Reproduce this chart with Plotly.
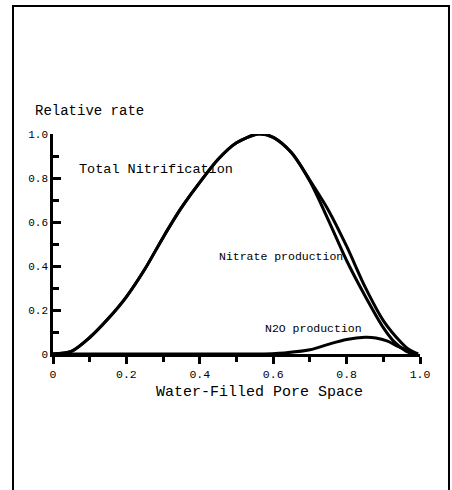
import plotly.graph_objects as go

# Data
wfps_total = [0, 0.05, 0.1, 0.15, 0.2, 0.25, 0.3, 0.35, 0.4, 0.45, 0.5, 0.56, 0.6, 0.65, 0.7, 0.75, 0.8, 0.85, 0.9, 0.95, 0.97, 0.995]
total_nitrification = [0, 0.012, 0.075, 0.16, 0.26, 0.385, 0.53, 0.665, 0.78, 0.885, 0.96, 1.0, 0.985, 0.915, 0.79, 0.655, 0.49, 0.306, 0.152, 0.05, 0.02, 0]

wfps_nitrate = [0, 0.05, 0.1, 0.15, 0.2, 0.25, 0.3, 0.35, 0.4, 0.45, 0.5, 0.56, 0.6, 0.65, 0.7, 0.75, 0.8, 0.85, 0.9, 0.93, 0.96, 0.98]
nitrate_production = [0, 0.012, 0.075, 0.16, 0.26, 0.385, 0.53, 0.665, 0.78, 0.885, 0.96, 1.0, 0.985, 0.915, 0.785, 0.61, 0.425, 0.265, 0.12, 0.055, 0.015, 0]

wfps_n2o = [0, 0.2, 0.4, 0.55, 0.63, 0.7, 0.75, 0.8, 0.85, 0.88, 0.91, 0.94, 0.975, 0.99]
n2o_production = [0, 0, 0, 0, 0.005, 0.019, 0.044, 0.066, 0.076, 0.073, 0.06, 0.035, 0.01, 0]

x_ticks = [0, 0.2, 0.4, 0.6, 0.8, 1.0]
x_tick_labels = ["0", "0.2", "0.4", "0.6", "0.8", "1.0"]
y_ticks = [0, 0.2, 0.4, 0.6, 0.8, 1.0]
y_tick_labels = ["0", "0.2", "0.4", "0.6", "0.8", "1.0"]

FONT = "Liberation Mono"
line = dict(color="black", width=3, shape="spline", smoothing=0.8)

fig = go.Figure()
fig.add_trace(go.Scatter(x=wfps_total, y=total_nitrification, mode="lines", line=line, showlegend=False))
fig.add_trace(go.Scatter(x=wfps_nitrate, y=nitrate_production, mode="lines", line=line, showlegend=False))
fig.add_trace(go.Scatter(x=wfps_n2o, y=n2o_production, mode="lines", line=line, showlegend=False))

fig.update_layout(
    width=452, height=490,
    margin=dict(l=53, r=32, t=134, b=136, pad=0),
    paper_bgcolor="white", plot_bgcolor="white",
    font=dict(family=FONT, color="black", size=11),
    xaxis=dict(range=[0, 1.0], tickvals=x_ticks, ticktext=x_tick_labels,
               showgrid=False, zeroline=False, showline=True, linecolor="black", linewidth=2.5,
               ticks="outside", ticklen=7, tickwidth=2.5, tickcolor="black",
               minor=dict(dtick=0.1, tick0=0, ticks="outside", ticklen=5, tickwidth=2.5, tickcolor="black"),
               tickfont=dict(family=FONT, size=11.5), fixedrange=True),
    yaxis=dict(range=[0, 1.0], tickvals=y_ticks, ticktext=y_tick_labels,
               showgrid=False, zeroline=False, showline=True, linecolor="black", linewidth=2.5,
               ticks="inside", ticklen=8, tickwidth=2.5, tickcolor="black",
               minor=dict(dtick=0.1, tick0=0, ticks="inside", ticklen=6, tickwidth=2.5, tickcolor="black"),
               tickfont=dict(family=FONT, size=11), fixedrange=True),
)

# outer frame
fig.add_shape(type="rect", xref="paper", yref="paper", x0=-0.109, x1=1.079, y0=-0.66, y1=1.582,
              line=dict(color="black", width=2), layer="below")

fig.add_annotation(text="Relative rate", xref="paper", yref="paper", x=-0.0545, y=1.1045,
                   xanchor="left", yanchor="middle", showarrow=False, font=dict(family=FONT, size=14))
fig.add_annotation(text="Total Nitrification", x=0.066, y=0.84, xanchor="left", yanchor="middle",
                   showarrow=False, font=dict(family=FONT, size=13.5))
fig.add_annotation(text="Nitrate production", x=0.448, y=0.442, xanchor="left", yanchor="middle",
                   showarrow=False, font=dict(family=FONT, size=11.5))
fig.add_annotation(text="N2O production", x=0.573, y=0.117, xanchor="left", yanchor="middle",
                   showarrow=False, font=dict(family=FONT, size=11.5))
fig.add_annotation(text="Water-Filled Pore Space", xref="paper", yref="paper", x=0.562, y=-0.177,
                   xanchor="center", yanchor="middle", showarrow=False, font=dict(family=FONT, size=15))

fig.write_html("out.html", config={"displayModeBar": False},
               post_script="document.body.style.margin='0';document.body.style.overflow='hidden';")
